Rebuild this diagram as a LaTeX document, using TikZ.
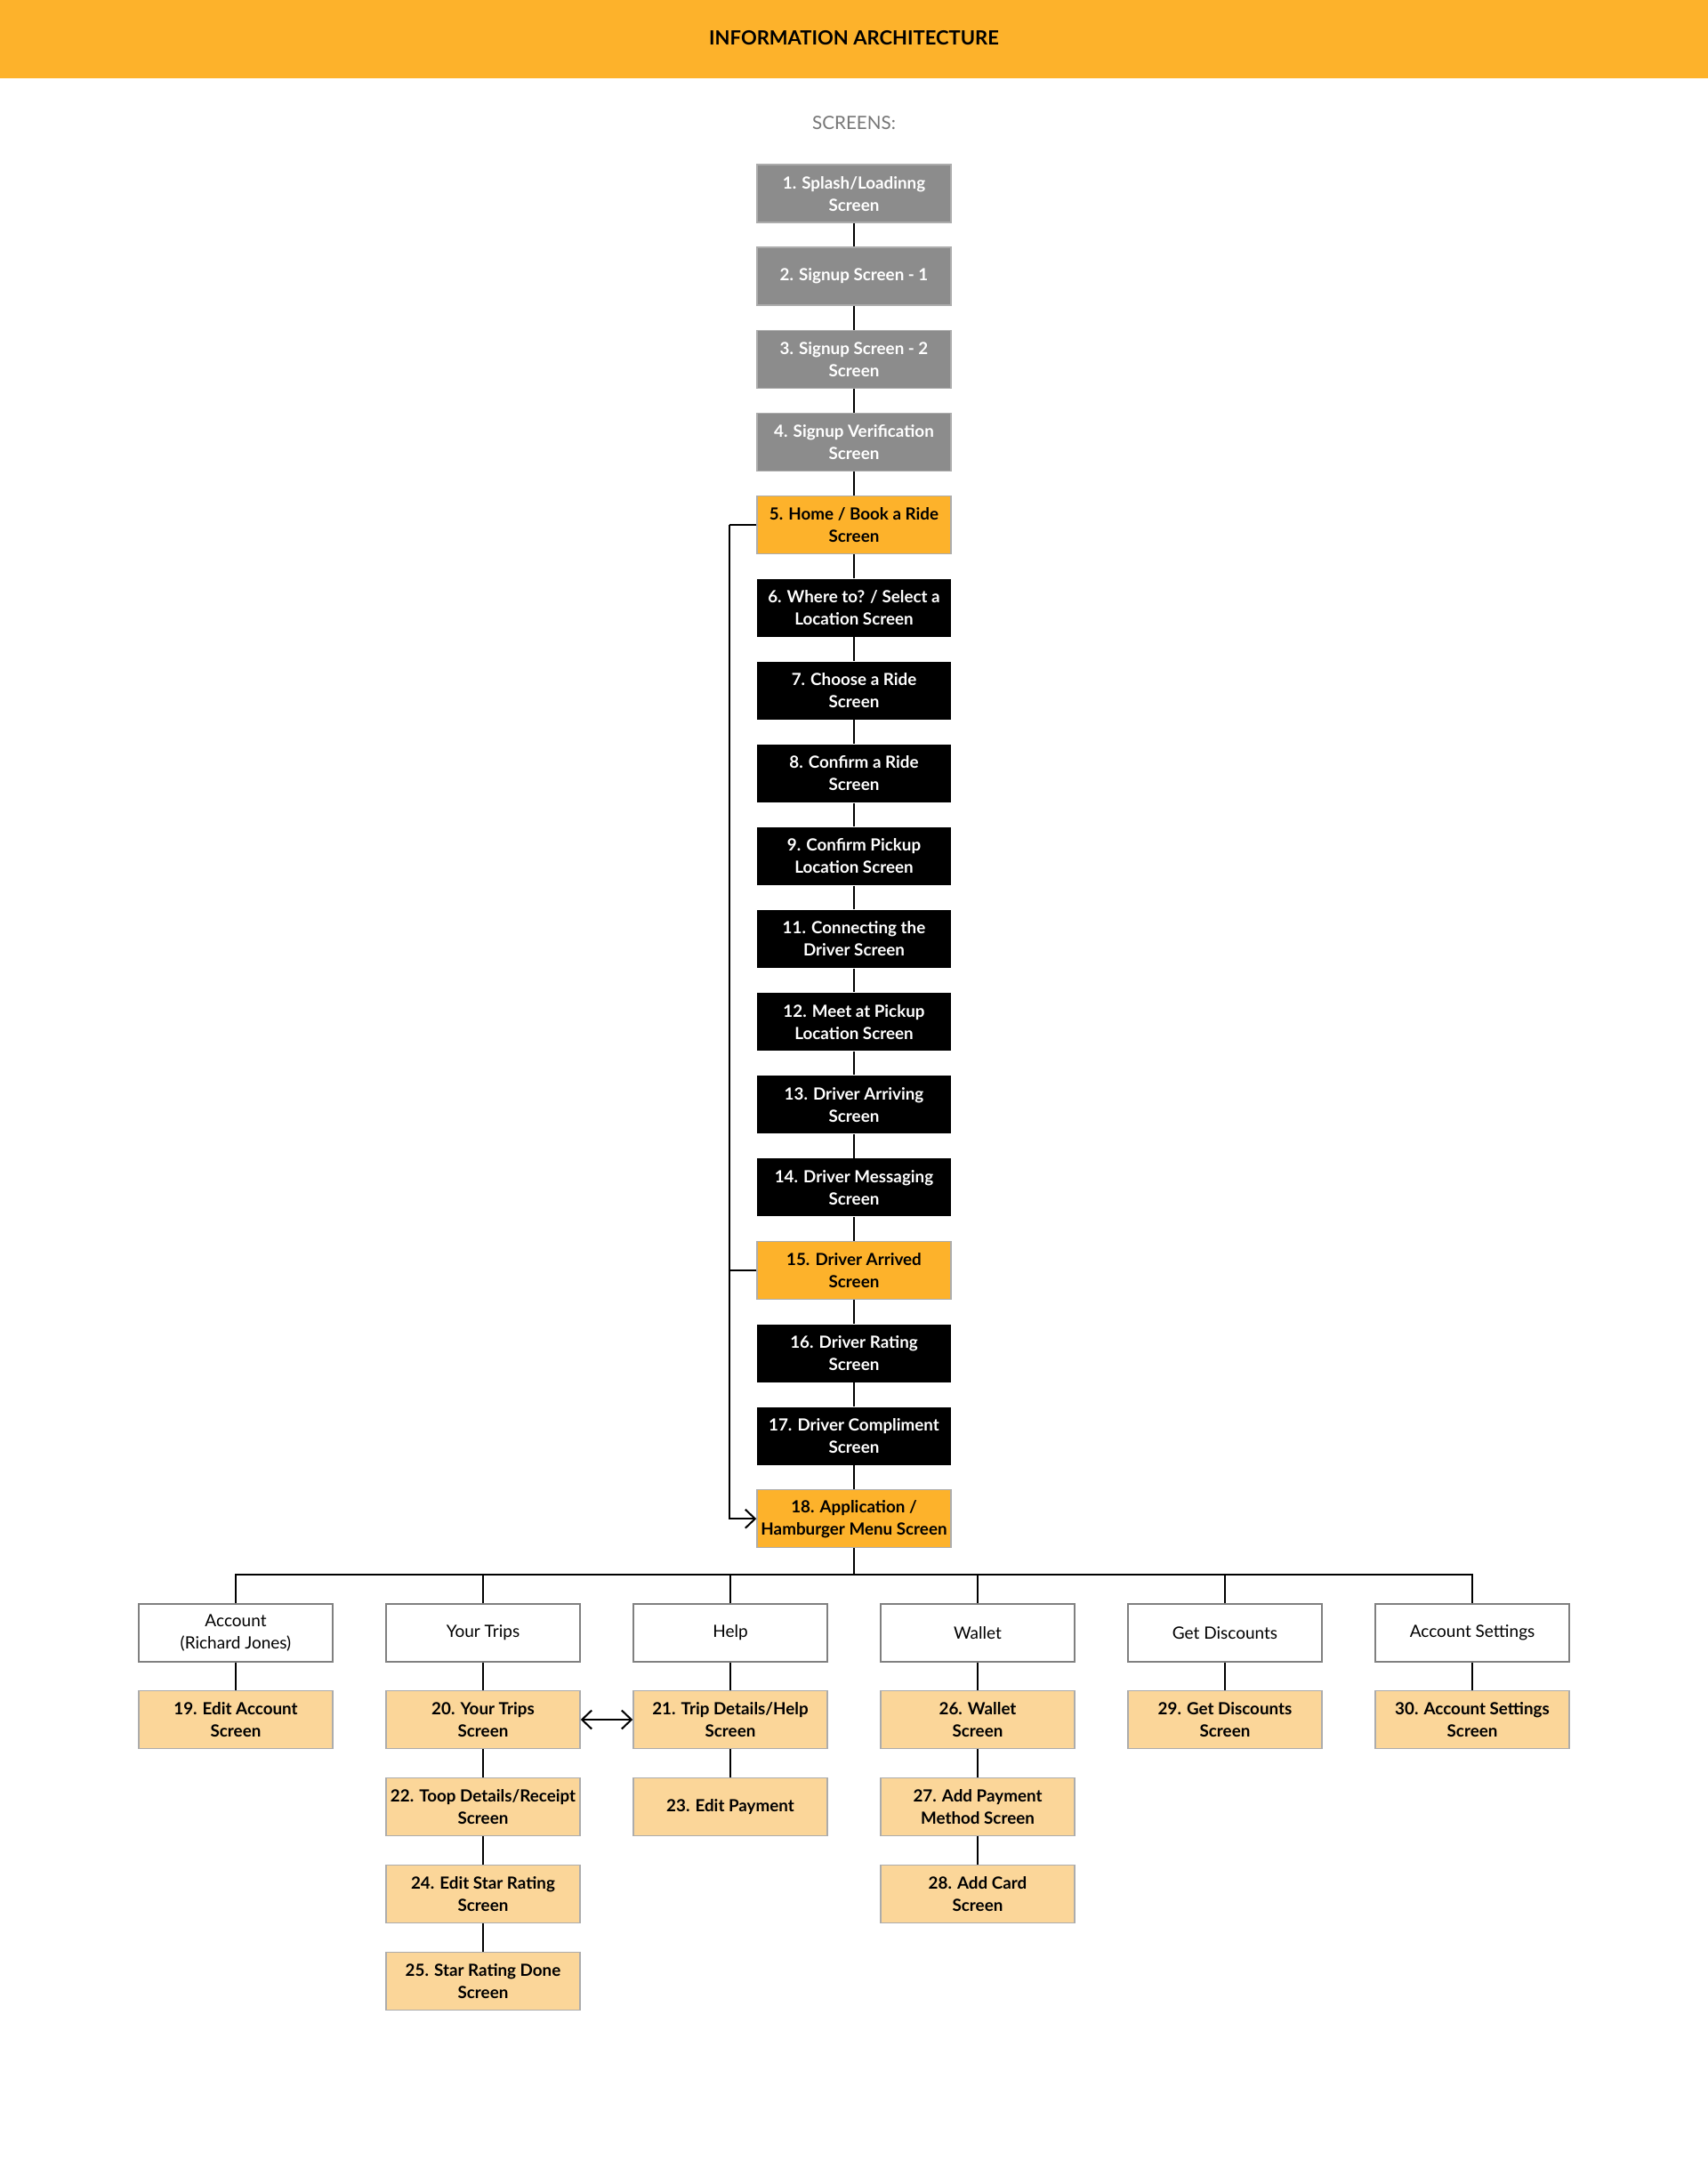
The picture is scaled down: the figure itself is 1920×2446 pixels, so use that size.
\documentclass[tikz,border=0pt]{standalone}
\usepackage{fontspec}
\setmainfont{Lato}
\usetikzlibrary{arrows.meta}
\definecolor{iaorange}{RGB}{253,178,43}
\definecolor{iagrey}{RGB}{140,140,140}
\definecolor{iasand}{RGB}{251,214,153}
\definecolor{iaedge}{RGB}{172,172,172}
\definecolor{iacaption}{RGB}{118,118,118}

\begin{document}
\begin{tikzpicture}[x=0.5pt,y=-0.5pt,
  screenbox/.style={rectangle,minimum width=109pt,minimum height=32.5pt,inner sep=0pt,align=center,line width=0.75pt,font=\fontsize{9.4}{12.5}\selectfont\bfseries},
  splashbox/.style={screenbox,fill=iagrey,draw=iaedge,text=white},
  darkbox/.style={screenbox,fill=black,text=white},
  amberbox/.style={screenbox,fill=iaorange,draw=iaedge},
  menubox/.style={screenbox,fill=white,draw=gray,font=\fontsize{9.5}{12.5}\selectfont},
  subbox/.style={screenbox,fill=iasand,draw=iaedge},
  link/.style={draw=black,line width=1pt},
  barb/.style={-{Straight Barb[length=5.5pt,width=10.5pt]}},
  twobarb/.style={{Straight Barb[length=5.5pt,width=10.5pt]}-{Straight Barb[length=5.5pt,width=10.5pt]}}]
\useasboundingbox (0,0) rectangle (1920,2446);
\fill[iaorange] (0,0) rectangle (1920,88);
\node[font=\fontsize{11}{13}\selectfont\bfseries] (title) at (960,43) {INFORMATION ARCHITECTURE};
\node[font=\fontsize{10.3}{12}\selectfont,text=iacaption] (screens) at (960,138) {SCREENS:};
\node[splashbox] (s1) at (960,217.6) {1. Splash/Loadinng\\Screen};
\node[splashbox] (s2) at (960,310.7) {2. Signup Screen - 1};
\node[splashbox] (s3) at (960,403.8) {3. Signup Screen - 2\\Screen};
\node[splashbox] (s4) at (960,496.9) {4. Signup Verification\\Screen};
\node[amberbox] (s5) at (960,590.0) {5. Home / Book a Ride\\Screen};
\node[darkbox] (s6) at (960,683.1) {6. Where to? / Select a\\Location Screen};
\node[darkbox] (s7) at (960,776.2) {7. Choose a Ride\\Screen};
\node[darkbox] (s8) at (960,869.3) {8. Confirm a Ride\\Screen};
\node[darkbox] (s9) at (960,962.4) {9. Confirm Pickup\\Location Screen};
\node[darkbox] (s11) at (960,1055.5) {11. Connecting the\\Driver Screen};
\node[darkbox] (s12) at (960,1148.6) {12. Meet at Pickup\\Location Screen};
\node[darkbox] (s13) at (960,1241.7) {13. Driver Arriving\\Screen};
\node[darkbox] (s14) at (960,1334.8) {14. Driver Messaging\\Screen};
\node[amberbox] (s15) at (960,1427.9) {15. Driver Arrived\\Screen};
\node[darkbox] (s16) at (960,1521.0) {16. Driver Rating\\Screen};
\node[darkbox] (s17) at (960,1614.1) {17. Driver Compliment\\Screen};
\node[amberbox] (s18) at (960,1707.2) {18. Application /\\Hamburger Menu Screen};
\node[menubox] (account) at (265,1835.5) {Account\\(Richard Jones)};
\node[menubox] (trips) at (543,1835.5) {Your Trips};
\node[menubox] (help) at (821,1835.5) {Help};
\node[menubox] (wallet) at (1099,1835.5) {Wallet};
\node[menubox] (discounts) at (1377,1835.5) {Get Discounts};
\node[menubox] (settings) at (1655,1835.5) {Account Settings};
\node[subbox] (s19) at (265,1933) {19. Edit Account\\Screen};
\node[subbox] (s20) at (543,1933) {20. Your Trips\\Screen};
\node[subbox] (s21) at (821,1933) {21. Trip Details/Help\\Screen};
\node[subbox] (s26) at (1099,1933) {26. Wallet\\Screen};
\node[subbox] (s29) at (1377,1933) {29. Get Discounts\\Screen};
\node[subbox] (s30) at (1655,1933) {30. Account Settings\\Screen};
\node[subbox] (s22) at (543,2031) {22. Toop Details/Receipt\\Screen};
\node[subbox] (s23) at (821,2031) {23. Edit Payment};
\node[subbox] (s27) at (1099,2031) {27. Add Payment\\Method Screen};
\node[subbox] (s24) at (543,2129) {24. Edit Star Rating\\Screen};
\node[subbox] (s28) at (1099,2129) {28. Add Card\\Screen};
\node[subbox] (s25) at (543,2227) {25. Star Rating Done\\Screen};
\draw[link] (s1) -- (s2);
\draw[link] (s2) -- (s3);
\draw[link] (s3) -- (s4);
\draw[link] (s4) -- (s5);
\draw[link] (s5) -- (s6);
\draw[link] (s6) -- (s7);
\draw[link] (s7) -- (s8);
\draw[link] (s8) -- (s9);
\draw[link] (s9) -- (s11);
\draw[link] (s11) -- (s12);
\draw[link] (s12) -- (s13);
\draw[link] (s13) -- (s14);
\draw[link] (s14) -- (s15);
\draw[link] (s15) -- (s16);
\draw[link] (s16) -- (s17);
\draw[link] (s17) -- (s18);
\coordinate (rail) at (820,590.0);
\draw[link] (s5.west) -- (rail);
\draw[link,barb] (rail) |- (s18.west);
\draw[link] (s15.west) -- (s15.west -| rail);
\coordinate (bus) at (960,1770);
\draw[link] (account.north) |- (bus) -| (settings.north);
\draw[link] (s18.south) -- (bus);
\draw[link] (trips.north) -- (trips.north |- bus);
\draw[link] (help.north) -- (help.north |- bus);
\draw[link] (wallet.north) -- (wallet.north |- bus);
\draw[link] (discounts.north) -- (discounts.north |- bus);
\draw[link] (account) -- (s19);
\draw[link] (trips) -- (s20);
\draw[link] (help) -- (s21);
\draw[link] (wallet) -- (s26);
\draw[link] (discounts) -- (s29);
\draw[link] (settings) -- (s30);
\draw[link] (s20) -- (s22);
\draw[link] (s22) -- (s24);
\draw[link] (s24) -- (s25);
\draw[link] (s21) -- (s23);
\draw[link] (s26) -- (s27);
\draw[link] (s27) -- (s28);
\draw[link,twobarb] (s20) -- (s21);
\end{tikzpicture}
\end{document}
